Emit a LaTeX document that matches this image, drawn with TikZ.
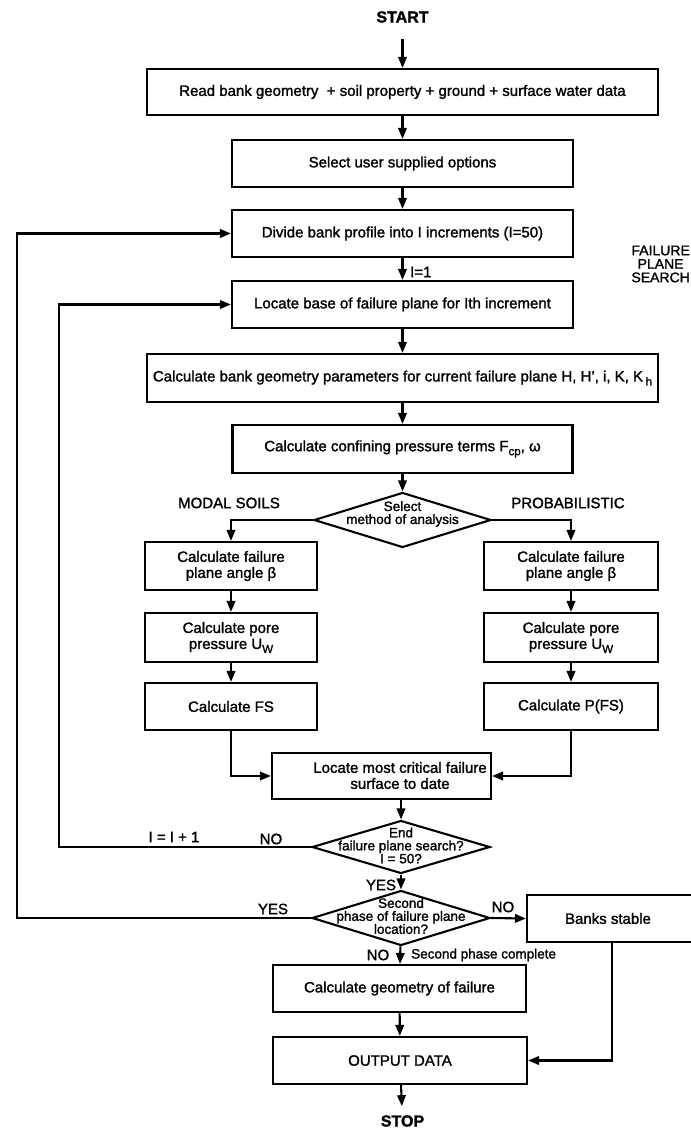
\documentclass[tikz,border=0pt]{standalone}
\usepackage{fontspec}
\setmainfont[FakeBold=1.5]{Liberation Sans}
\usetikzlibrary{arrows.meta,shapes.geometric}
\newcommand\sbs[1]{\raisebox{-4pt}{\fontsize{11.5}{11.5}\selectfont #1}}
\begin{document}
\begin{tikzpicture}[x=1pt,y=-1pt,
  box/.style={draw,line width=2.1pt,inner sep=0pt,align=center,font=\fontsize{15}{16}\selectfont},
  dia/.style={draw,diamond,line width=2.1pt,inner sep=0pt},
  dtx/.style={font=\fontsize{13.5}{13}\selectfont,align=center,inner sep=0pt},
  arr/.style={line width=2.1pt,-{Triangle[length=11pt,width=8.5pt]}},
  lbl/.style={font=\fontsize{15}{16}\selectfont,inner sep=0pt},
  term/.style={font=\fontsize{16}{18}\selectfont\bfseries,inner sep=0pt}]
\useasboundingbox (0,0) rectangle (690,1139);
\fill[white] (0,0) rectangle (690,1139);
% terminals
\node[term] (start) at (402.5,17) {START};
\node[term] (stop) at (402.5,1121) {STOP};
% main column boxes
\node[box,minimum width=511pt,minimum height=46pt] (b1) at (402.5,92) {Read bank geometry \ + soil property + ground + surface water data};
\node[box,minimum width=341pt,minimum height=47pt] (b2) at (402.5,163.5) {Select user supplied options};
\node[box,minimum width=341pt,minimum height=47pt] (b3) at (402.5,233.5) {Divide bank profile into I increments (I=50)};
\node[box,minimum width=341pt,minimum height=47pt] (b4) at (402.5,304.5) {Locate base of failure plane for Ith increment};
\node[box,minimum width=511pt,minimum height=48pt] (b5) at (402.5,378) {Calculate bank geometry parameters for current failure plane H, H', i, K, K\,\sbs{h}};
\node[box,minimum width=340pt,minimum height=48pt] (b6) at (402.5,449) {Calculate confining pressure terms F\sbs{cp}, ω};
\node[dia,minimum width=177pt,minimum height=55pt] (d1) at (402.5,520) {};
\node[dtx] (d1t) at (402.5,514) {Select\\method of analysis};
% branches
\node[box,minimum width=172pt,minimum height=48pt] (b7l) at (231,566) {Calculate failure\\plane angle β};
\node[box,minimum width=174pt,minimum height=48pt] (b7r) at (571,566) {Calculate failure\\plane angle β};
\node[box,minimum width=172pt,minimum height=49pt] (b8l) at (231,637.5) {Calculate pore\\pressure U\sbs{W}};
\node[box,minimum width=174pt,minimum height=49pt] (b8r) at (571,637.5) {Calculate pore\\pressure U\sbs{W}};
\node[box,minimum width=172pt,minimum height=47pt] (b9l) at (231,706.5) {Calculate FS};
\node[box,minimum width=174pt,minimum height=47pt] (b9r) at (571,706.5) {Calculate P(FS)};
\node[box,minimum width=219pt,minimum height=46pt] (b10) at (381.5,776) {};
\node[box,draw=none] (b10t) at (400,775.5) {Locate most critical failure\\surface to date};
\node[dia,minimum width=178pt,minimum height=53pt] (d2) at (401,847) {};
\node[dtx] (d2t) at (401,845.5) {End\\failure plane search?\\I = 50?};
\node[dia,minimum width=178pt,minimum height=55pt] (d3) at (401,918) {};
\node[dtx] (d3t) at (401,916) {Second\\phase of failure plane\\location?};
\node[box,minimum width=173pt,minimum height=47pt] (banks) at (613.5,918.5) {};
\node[box,draw=none] (bankst) at (608,918.5) {Banks stable};
\node[box,minimum width=253pt,minimum height=47pt] (b11) at (399.5,988.5) {Calculate geometry of failure};
\node[box,minimum width=254pt,minimum height=47pt] (b12) at (400,1060.5) {OUTPUT DATA};
% labels
\node[lbl,align=center,anchor=east,font=\fontsize{14}{13.5}\selectfont] (fps) at (690,264) {FAILURE\\PLANE\\SEARCH};
\node[lbl,anchor=west] (i1) at (410,272) {I=1};
\node[lbl] (modal) at (229,503) {MODAL SOILS};
\node[lbl] (prob) at (568,503) {PROBABILISTIC};
\node[lbl] (inc) at (174,837) {I = I + 1};
\node[lbl] (no1) at (271,839) {NO};
\node[lbl] (yes1) at (381,885) {YES};
\node[lbl] (yes2) at (273,909) {YES};
\node[lbl] (no2) at (503,907) {NO};
\node[lbl] (no3) at (378,955) {NO};
\node[lbl,anchor=west,font=\fontsize{13.5}{14}\selectfont] (spc) at (411,955) {Second phase complete};
% loop coordinates
\coordinate (l1) at (17,0);
\coordinate (l2) at (59,0);
\coordinate (l3) at (612,0);
% connectors
\draw[arr,shorten <=16pt] (start) -- (b1);
\draw[arr] (b1) -- (b2);
\draw[arr] (b2) -- (b3);
\draw[arr] (b3) -- (b4);
\draw[arr] (b4) -- (b5);
\draw[arr] (b5) -- (b6);
\draw[arr] (b6) -- (d1);
\draw[arr] (d1.west) -| (b7l.north);
\draw[arr] (d1.east) -| (b7r.north);
\draw[arr] (b7l) -- (b8l);
\draw[arr] (b7r) -- (b8r);
\draw[arr] (b8l) -- (b9l);
\draw[arr] (b8r) -- (b9r);
\draw[arr] (b9l.south) |- (b10.west);
\draw[arr] (b9r.south) |- (b10.east);
\draw[arr] (b10.south -| d2.north) -- (d2.north);
\draw[arr] (d2.west) -- (d2.west -| l2) -- (b4.west -| l2) -- (b4.west);
\draw[arr] (d2) -- (d3);
\draw[arr] (d3.west) -- (d3.west -| l1) -- (b3.west -| l1) -- (b3.west);
\draw[arr] (d3.east) -- (banks.west);
\draw[arr] (d3) -- (b11);
\draw[arr] (b11) -- (b12);
\draw[arr] (banks.south -| l3) |- (b12.east);
\draw[arr,shorten >=9pt] (b12) -- (stop);
\end{tikzpicture}
\end{document}
